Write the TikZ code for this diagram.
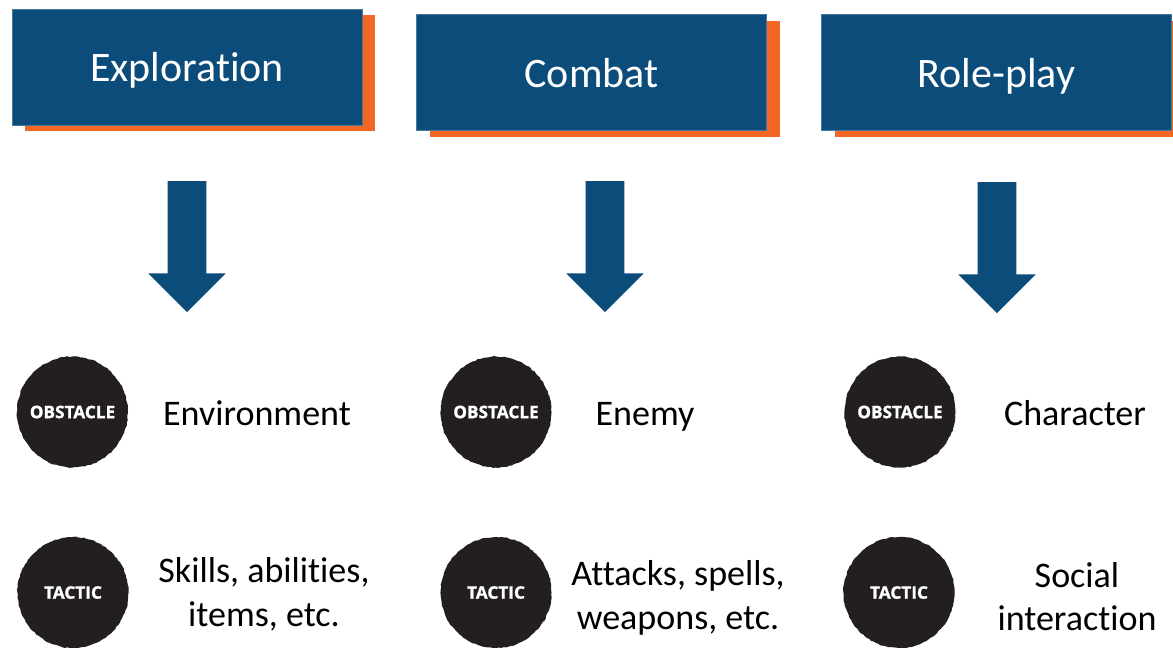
\documentclass[tikz,border=0pt]{standalone}
\usepackage{fontspec}
\setmainfont[Ligatures=NoCommon]{Carlito}
\newfontfamily\badgefont[BoldFeatures={FakeBold=1.2}]{Open Sans}
\usetikzlibrary{shapes.arrows}
\usetikzlibrary{decorations.pathmorphing}

\definecolor{boxblue}{HTML}{0C4C7A}
\definecolor{boxorange}{HTML}{F26724}
\definecolor{badgeblack}{HTML}{231F20}

\tikzset{
    headbox/.style={fill=boxblue, draw=boxblue!75!white, line width=0.3pt, text=white, minimum width=7cm, minimum height=2.32cm, text height=0.64cm, text depth=0.06cm, font=\fontsize{23.9}{27}\selectfont},
    headshadow/.style={fill=boxorange, minimum width=7cm, minimum height=2.32cm},
    downarrow/.style={shape=single arrow, fill=boxblue, rotate=-90, minimum height=2.62cm, minimum width=1.54cm, inner sep=0.38cm, single arrow head extend=0.39cm, single arrow head indent=0pt},
    badge/.style={shape=circle, fill=badgeblack, text=white, minimum size=2.22cm, inner sep=0pt, decorate, decoration={random steps, segment length=1.5pt, amplitude=0.3pt}, font=\badgefont\bfseries\fontsize{9.8}{11}\selectfont},
    label/.style={align=center, anchor=base, font=\fontsize{20.5}{24.6}\selectfont},
}

\begin{document}
\begin{tikzpicture}[x=0.02cm, y=-0.02cm]
    \useasboundingbox (0,0) rectangle (1173,647);
    \pgfmathsetseed{7}

    \node[headshadow] (S1) at (200,73) {};
    \node[headshadow] (S2) at (605,79) {};
    \node[headshadow] (S3) at (1010,79) {};

    \node[headbox] (E) at (187,67) {Exploration};
    \node[headbox] (C) at (591.5,72.5) {Combat};
    \node[headbox] (R) at (996.5,72.5) {Role-play};

    \node[downarrow] (A1) at (187,237) {};
    \node[downarrow] (A2) at (605,237) {};
    \node[downarrow] (A3) at (997,238) {};

    \node[badge] (O1) at (72.5,412) {OBSTACLE};
    \node[badge] (O2) at (496,412) {OBSTACLE};
    \node[badge] (O3) at (900,412) {OBSTACLE};

    \node[badge] (T1) at (73,592.5) {TACTIC};
    \node[badge] (T2) at (496,592.5) {TACTIC};
    \node[badge] (T3) at (899,592.5) {TACTIC};

    \node[label] (LO1) at (257,425) {Environment};
    \node[label] (LO2) at (645,425) {Enemy};
    \node[label] (LO3) at (1075,425) {Character};

    \node[label] (LT1) at (264,626) {Skills, abilities,\\items, etc.};
    \node[label] (LT2) at (678,629) {Attacks, spells,\\weapons, etc.};
    \node[label] (LT3) at (1077,630.5) {Social\\interaction};

\end{tikzpicture}
\end{document}
